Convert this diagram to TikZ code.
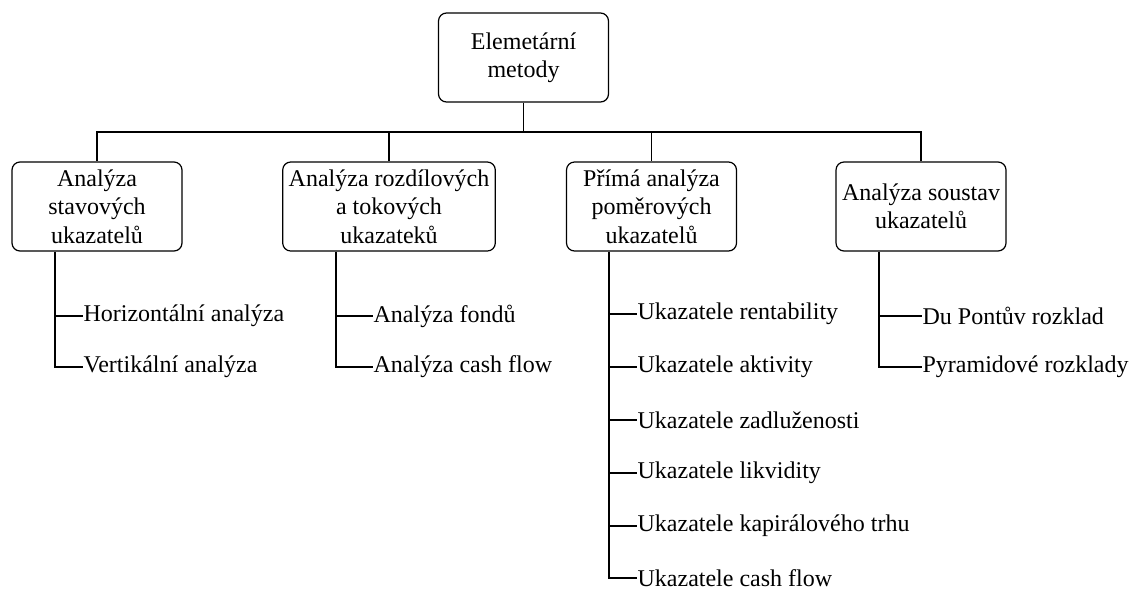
\documentclass[tikz,border=0pt]{standalone}
\usepackage{fontspec}
\setmainfont{Liberation Serif}
\usetikzlibrary{positioning}
\tikzset{
  box/.style={draw, rounded corners=4pt, align=center, minimum width=85pt,
    minimum height=44.5pt, inner xsep=3pt, font=\fontsize{12}{14.2}\selectfont},
  leaf/.style={anchor=west, inner sep=0pt, font=\fontsize{12}{14.2}\selectfont},
}
\begin{document}
\begin{tikzpicture}[x=0.5pt,y=-0.5pt,line width=0.6pt]
  \useasboundingbox (0,0) rectangle (1133,590);
  \node[box] (top) at (523.5,57.5) {Elemetární\\metody};
          \node[box] (stav) at (97,206.5) {Analýza\\stavových\\ukazatelů};
	\node[box] (rozd) at (389,206.5) {Analýza rozdílových\\a tokových\\ukazateků};
	\node[box] (pom) at (651.5,206.5) {Přímá analýza\\poměrových\\ukazatelů};
	\node[box] (sous) at (921,206.5) {Analýza soustav\\ukazatelů};
  \coordinate (bar) at (0,132);
	\draw (top.south) -- (top.south |- bar) -| (stav.north);
	\draw (top.south |- bar) -| (rozd.north);
	\draw (top.south |- bar) -| (pom.north);
	\draw (top.south |- bar) -| (sous.north);
  \coordinate (s1) at (55,0);
  \coordinate (s2) at (336,0);
  \coordinate (s3) at (609,0);
  \coordinate (s4) at (879,0);
	\node[leaf] (hor) at (83,316) {Horizontální analýza};
	\node[leaf] (ver) at (83,367) {Vertikální analýza};
	\node[leaf] (fond) at (373,316) {Analýza fondů};
	\node[leaf] (cfa) at (373,367) {Analýza cash flow};
	\node[leaf] (rent) at (637,314) {Ukazatele rentability};
	\node[leaf] (akt) at (637,367) {Ukazatele aktivity};
	\node[leaf] (zadl) at (637,420) {Ukazatele zadluženosti};
	\node[leaf] (likv) at (637,473) {Ukazatele likvidity};
	\node[leaf] (trh) at (637,526) {Ukazatele kapirálového trhu};
	\node[leaf] (ucf) at (637,578) {Ukazatele cash flow};
	\node[leaf] (dup) at (922,316) {Du Pontův rozklad};
	\node[leaf] (pyr) at (922,367) {Pyramidové rozklady};
	\draw (stav.south -| s1) |- (ver.west);
	\draw (hor.west -| s1) -- (hor.west);
	\draw (rozd.south -| s2) |- (cfa.west);
	\draw (fond.west -| s2) -- (fond.west);
	\draw (pom.south -| s3) |- (ucf.west);
	\draw (rent.west -| s3) -- (rent.west);
	\draw (akt.west -| s3) -- (akt.west);
	\draw (zadl.west -| s3) -- (zadl.west);
	\draw (likv.west -| s3) -- (likv.west);
	\draw (trh.west -| s3) -- (trh.west);
	\draw (sous.south -| s4) |- (pyr.west);
	\draw (dup.west -| s4) -- (dup.west);
\end{tikzpicture}
\end{document}
